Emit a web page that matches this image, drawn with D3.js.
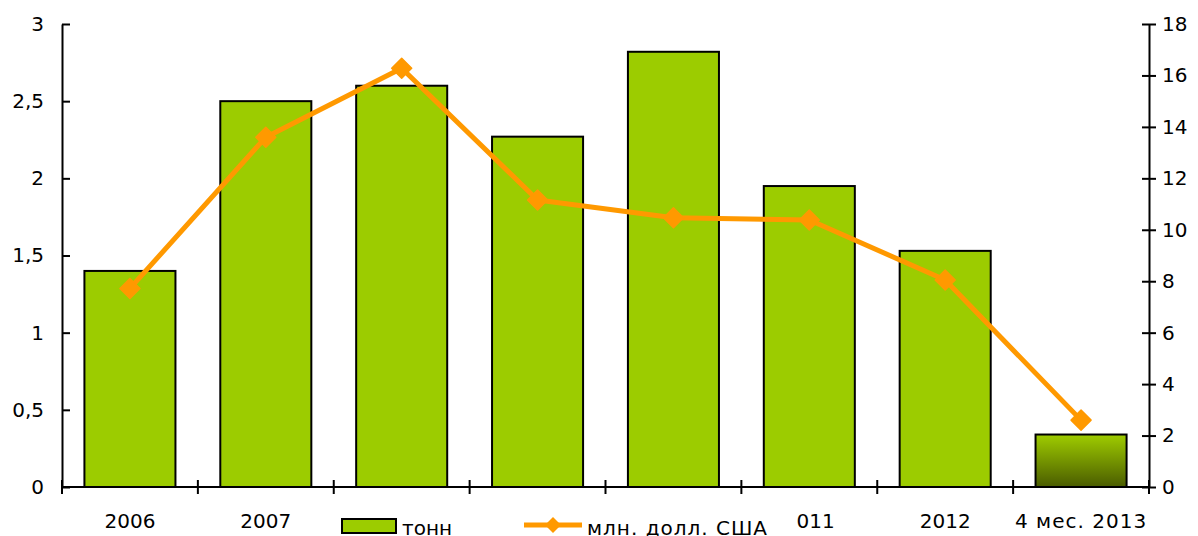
<!DOCTYPE html>
<html lang="ru">
<head>
<meta charset="utf-8">
<title>тонн / млн. долл. США</title>
<script src="https://cdn.jsdelivr.net/npm/d3@7"></script>
<style>
	body { margin: 0; background: #fff; }
	text { font-family: "DejaVu Sans", Verdana, sans-serif; font-size: 20px; fill: #000; }
</style>
</head>
<body>
<svg id="chart" width="1198" height="536"></svg>
<script type="text/javascript">

	// categories on x axis
	var years = ["2006", "2007", "2008", "2009", "2010", "2011", "2012", "4 мес. 2013"];
	// left axis - тонн (bars)
	var tonnes = [1.4, 2.5, 2.6, 2.27, 2.82, 1.95, 1.53, 0.34];
	// right axis - млн. долл. США (line)
	var usd = [7.72, 13.6, 16.28, 11.16, 10.47, 10.38, 8.05, 2.6];

	var leftTicks = [0, 0.5, 1, 1.5, 2, 2.5, 3];
	var rightTicks = [0, 2, 4, 6, 8, 10, 12, 14, 16, 18];
	var legendNames = ["тонн", "млн. долл. США"];

	var svg = d3.select("#chart");
	var margin = {top: 24, right: 49, bottom: 49, left: 62};
	var width = +svg.attr("width") - margin.left - margin.right;
	var height = +svg.attr("height") - margin.top - margin.bottom;

	var defs = svg.append("defs");
	var grad = defs.append("linearGradient")
		.attr("id", "lastBar")
		.attr("x1", 0).attr("y1", 0).attr("x2", 0).attr("y2", 1);
	grad.append("stop").attr("offset", "0%").attr("stop-color", "#9fcc00");
	grad.append("stop").attr("offset", "100%").attr("stop-color", "#4a5c00");

	var g = svg.append("g")
		.attr("transform", "translate(" + margin.left + "," + margin.top + ")");

	var x = d3.scaleBand()
		.domain(years)
		.range([0, width])
		.paddingInner(0.33)
		.paddingOuter(0.165);

	var yL = d3.scaleLinear().domain([0, 3]).range([height, 0]);
	var yR = d3.scaleLinear().domain([0, 18]).range([height, 0]);

	// bars
	g.append("g").selectAll("rect")
		.data(tonnes)
		.enter().append("rect")
		.attr("x", function(d, i){ return x(years[i]) })
		.attr("y", function(d){ return yL(d) })
		.attr("width", x.bandwidth())
		.attr("height", function(d){ return height - yL(d) })
		.attr("fill", function(d, i){ return i == years.length - 1 ? "url(#lastBar)" : "#9ccc00" })
		.attr("stroke", "#000")
		.attr("stroke-width", 2);

	// x axis: ticks on category boundaries
	var step = width / years.length;
	var xTicks = d3.range(years.length + 1).map(function(i){ return i * step });
	var xb = g.append("g").attr("transform", "translate(0," + height + ")");
	xb.append("line").attr("x1", 0).attr("x2", width)
		.attr("stroke", "#000").attr("stroke-width", 2);
	xb.selectAll("line.tick").data(xTicks).enter().append("line")
		.attr("class", "tick")
		.attr("x1", function(d){ return d }).attr("x2", function(d){ return d })
		.attr("y1", -7).attr("y2", 7)
		.attr("stroke", "#000").attr("stroke-width", 2);
	xb.selectAll("text").data(years).enter().append("text")
		.attr("x", function(d){ return x(d) + x.bandwidth() / 2 })
		.attr("y", 41)
		.attr("text-anchor", "middle")
		.attr("letter-spacing", function(d){ return d.length > 4 ? "1px" : null })
		.text(function(d){ return d });

	// left axis
	var fmt = function(d){ return String(d).replace(".", ",") };
	g.append("g")
		.call(d3.axisLeft(yL).tickValues(leftTicks).tickFormat(fmt).tickSizeInner(7).tickSizeOuter(0).tickPadding(11))
		.call(function(a){
			a.select(".domain").attr("stroke-width", 2);
			a.selectAll(".tick line").attr("x2", 8).attr("stroke-width", 2);
			a.selectAll("text").attr("font-size", null).attr("font-family", null);
		});

	// right axis
	g.append("g")
		.attr("transform", "translate(" + width + ",0)")
		.call(d3.axisRight(yR).tickValues(rightTicks).tickSizeInner(7).tickSizeOuter(0).tickPadding(6))
		.call(function(a){
			a.select(".domain").attr("stroke-width", 2);
			a.selectAll(".tick line").attr("x2", 7).attr("x1", -7).attr("stroke-width", 2);
			a.selectAll("text").attr("font-size", null).attr("font-family", null);
		});

	// line series
	var cx = function(i){ return x(years[i]) + x.bandwidth() / 2 };
	var line = d3.line()
		.x(function(d, i){ return cx(i) })
		.y(function(d){ return yR(d) });

	g.append("path")
		.datum(usd)
		.attr("d", line)
		.attr("fill", "none")
		.attr("stroke", "#ff9900")
		.attr("stroke-width", 5)
		.attr("stroke-linejoin", "round");

	var diamond = "M0,-10L10,0L0,10L-10,0Z";
	g.append("g").selectAll("path")
		.data(usd)
		.enter().append("path")
		.attr("d", diamond)
		.attr("transform", function(d, i){ return "translate(" + cx(i) + "," + yR(d) + ")" })
		.attr("fill", "#ff9900")
		.attr("stroke", "#ff9900")
		.attr("stroke-width", 1.5)
		.attr("stroke-linejoin", "round");

	// legend (sits over the x labels, like the original)
	var lg = svg.append("g").attr("transform", "translate(335,506)");
	lg.append("rect").attr("x", 0).attr("y", 0).attr("width", 462).attr("height", 32).attr("fill", "#fff");
	lg.append("rect").attr("x", 7).attr("y", 13).attr("width", 54).attr("height", 14)
		.attr("fill", "#9ccc00").attr("stroke", "#000").attr("stroke-width", 2);
	lg.append("text").attr("x", 67).attr("y", 29).text(legendNames[0]);
	lg.append("line").attr("x1", 189).attr("x2", 247).attr("y1", 19).attr("y2", 19)
		.attr("stroke", "#ff9900").attr("stroke-width", 5);
	lg.append("path").attr("d", "M0,-8L8,0L0,8L-8,0Z")
		.attr("transform", "translate(218,19)").attr("fill", "#ff9900");
	lg.append("text").attr("x", 252).attr("y", 29).attr("letter-spacing", "1px").text(legendNames[1]);

</script>
</body>
</html>
